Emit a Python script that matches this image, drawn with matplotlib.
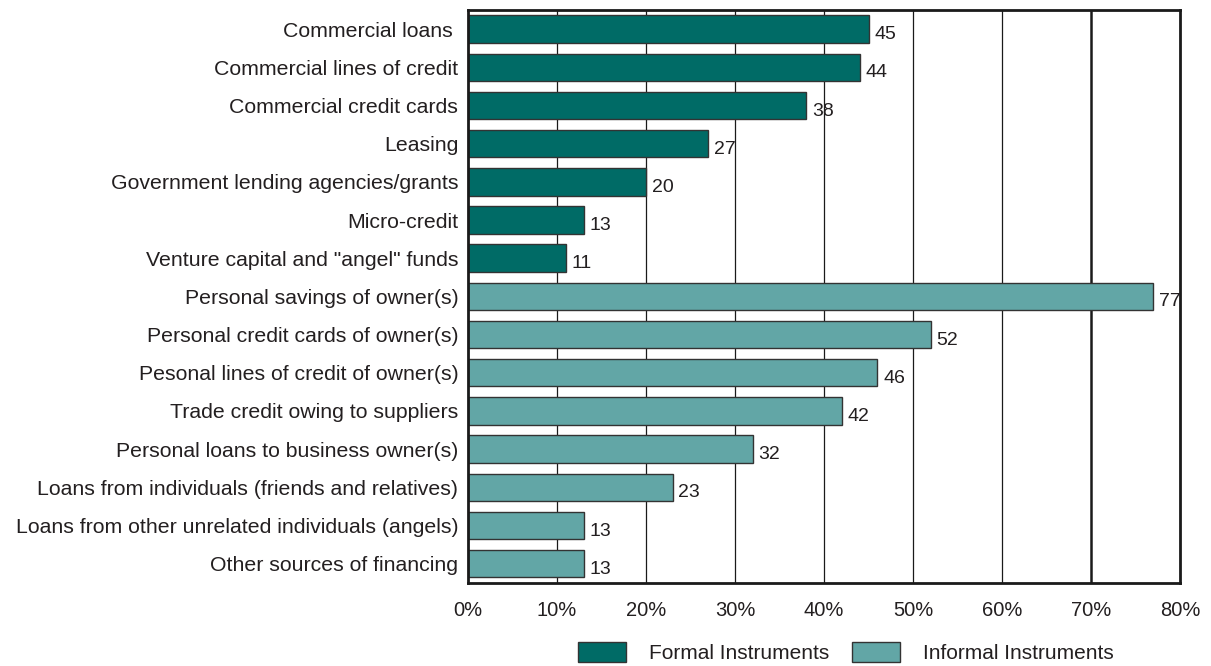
import matplotlib
matplotlib.use('Agg')
import matplotlib.pyplot as plt
from matplotlib.patches import Patch

plt.rcParams['font.family'] = ['Liberation Sans', 'DejaVu Sans']

formal_labels = [
    'Commercial loans ',
    'Commercial lines of credit',
    'Commercial credit cards',
    'Leasing',
    'Government lending agencies/grants',
    'Micro-credit',
    'Venture capital and "angel" funds',
]
formal_values = [45, 44, 38, 27, 20, 13, 11]

informal_labels = [
    'Personal savings of owner(s)',
    'Personal credit cards of owner(s)',
    'Pesonal lines of credit of owner(s)',
    'Trade credit owing to suppliers',
    'Personal loans to business owner(s)',
    'Loans from individuals (friends and relatives)',
    'Loans from other unrelated individuals (angels)',
    'Other sources of financing',
]
informal_values = [77, 52, 46, 42, 32, 23, 13, 13]

x_ticks = [0, 10, 20, 30, 40, 50, 60, 70, 80]
legend_names = ['Formal Instruments', 'Informal Instruments']

FORMAL_COLOR = '#006b66'
INFORMAL_COLOR = '#62a6a6'
EDGE = '#333333'
TEXT = '#231f20'

labels = formal_labels + informal_labels
values = formal_values + informal_values
colors = [FORMAL_COLOR] * len(formal_values) + [INFORMAL_COLOR] * len(informal_values)
ypos = list(range(len(labels)))

fig = plt.figure(figsize=(12.11, 6.66), dpi=100)
ax = fig.add_axes([0.3865, 0.125, 0.588, 0.86])

# vertical grid lines behind the bars, the 70% one drawn heavier
for x in x_ticks[1:-1]:
    ax.axvline(x, color='#1a1a1a', lw=1.8 if x == 70 else 0.9, zorder=0)

ax.barh(ypos, values, height=0.72, color=colors, edgecolor=EDGE, linewidth=1.0, zorder=2)

for y, v in zip(ypos, values):
    ax.annotate(f'{v}', xy=(v, y), xytext=(4, -4), textcoords='offset points',
                ha='left', va='center', fontsize=14, color=TEXT)

ax.set_xlim(0, 80)
ax.set_ylim(len(labels) - 0.5, -0.5)
ax.set_xticks(x_ticks)
ax.set_xticklabels([f'{t}%' for t in x_ticks], fontsize=14.5, color=TEXT)
ax.set_yticks(ypos)
ax.set_yticklabels(labels, fontsize=15.3, color=TEXT)
ax.tick_params(axis='x', length=0, pad=13)
ax.tick_params(axis='y', length=0, pad=7)
for s in ax.spines.values():
    s.set_linewidth(2.0)
    s.set_color('#1a1a1a')

handles = [Patch(facecolor=FORMAL_COLOR, edgecolor=EDGE, linewidth=1.0),
           Patch(facecolor=INFORMAL_COLOR, edgecolor=EDGE, linewidth=1.0)]
leg = fig.legend(handles, legend_names, loc='center', bbox_to_anchor=(846 / 1211, 1 - 652.5 / 666),
                 ncol=2, frameon=False, fontsize=15, handlelength=2.3, handleheight=1.1,
                 handletextpad=1.1, columnspacing=1.1, borderpad=0)
for t in leg.get_texts():
    t.set_color(TEXT)

fig.savefig('out.png', dpi=100)
plt.close(fig)
